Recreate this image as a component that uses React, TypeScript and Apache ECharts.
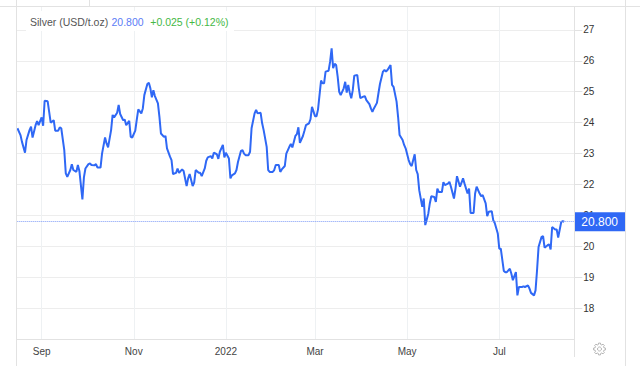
import React, { useEffect, useRef } from "react";
import * as echarts from "echarts";

const titleName = "Silver (USD/t.oz)";
const lastPrice = 20.8;
const changeAbs = 0.025;
const changePct = 0.12;
const monthNames = ["Jan", "Feb", "Mar", "Apr", "May", "Jun", "Jul", "Aug", "Sep", "Oct", "Nov", "Dec"];
const xMin = "2021-08-15 12:00";
const xMax = "2022-08-19 16:00";
const yMin = 17;
const yMax = 27.77;

const dates = [
  "2021-08-16", "2021-08-18", "2021-08-19", "2021-08-21", "2021-08-22", "2021-08-24", "2021-08-25", "2021-08-26", "2021-08-28", "2021-08-29",
  "2021-08-30", "2021-09-01", "2021-09-02", "2021-09-03", "2021-09-05", "2021-09-06", "2021-09-07", "2021-09-09", "2021-09-10", "2021-09-12",
  "2021-09-13", "2021-09-14", "2021-09-16", "2021-09-17", "2021-09-18", "2021-09-20", "2021-09-21", "2021-09-22", "2021-09-24", "2021-09-25",
  "2021-09-26", "2021-09-28", "2021-09-29", "2021-09-30", "2021-10-02", "2021-10-03", "2021-10-04", "2021-10-06", "2021-10-07", "2021-10-08",
  "2021-10-10", "2021-10-11", "2021-10-13", "2021-10-14", "2021-10-15", "2021-10-17", "2021-10-18", "2021-10-19", "2021-10-21", "2021-10-22",
  "2021-10-23", "2021-10-25", "2021-10-26", "2021-10-27", "2021-10-29", "2021-10-30", "2021-10-31", "2021-11-02", "2021-11-03", "2021-11-04",
  "2021-11-06", "2021-11-07", "2021-11-08", "2021-11-10", "2021-11-11", "2021-11-12", "2021-11-13", "2021-11-14", "2021-11-15", "2021-11-17",
  "2021-11-18", "2021-11-19", "2021-11-21", "2021-11-22", "2021-11-23", "2021-11-25", "2021-11-26", "2021-11-27", "2021-11-29", "2021-11-30",
  "2021-12-01", "2021-12-03", "2021-12-04", "2021-12-06", "2021-12-07", "2021-12-08", "2021-12-10", "2021-12-11", "2021-12-12", "2021-12-14",
  "2021-12-15", "2021-12-16", "2021-12-18", "2021-12-19", "2021-12-20", "2021-12-22", "2021-12-23", "2021-12-24", "2021-12-26", "2021-12-27",
  "2021-12-28", "2021-12-30", "2021-12-31", "2022-01-01", "2022-01-03", "2022-01-04", "2022-01-05", "2022-01-07", "2022-01-08", "2022-01-09",
  "2022-01-11", "2022-01-12", "2022-01-13", "2022-01-14", "2022-01-16", "2022-01-17", "2022-01-18", "2022-01-20", "2022-01-21", "2022-01-22",
  "2022-01-24", "2022-01-25", "2022-01-26", "2022-01-28", "2022-01-29", "2022-01-30", "2022-02-01", "2022-02-02", "2022-02-03", "2022-02-05",
  "2022-02-06", "2022-02-07", "2022-02-09", "2022-02-10", "2022-02-12", "2022-02-13", "2022-02-14", "2022-02-16", "2022-02-17", "2022-02-18",
  "2022-02-19", "2022-02-21", "2022-02-22", "2022-02-23", "2022-02-25", "2022-02-26", "2022-02-27", "2022-03-01", "2022-03-02", "2022-03-03",
  "2022-03-05", "2022-03-06", "2022-03-07", "2022-03-08", "2022-03-10", "2022-03-11", "2022-03-12", "2022-03-13", "2022-03-14", "2022-03-15",
  "2022-03-16", "2022-03-17", "2022-03-18", "2022-03-20", "2022-03-21", "2022-03-22", "2022-03-23", "2022-03-24", "2022-03-25", "2022-03-26",
  "2022-03-27", "2022-03-29", "2022-03-30", "2022-03-31", "2022-04-02", "2022-04-03", "2022-04-04", "2022-04-06", "2022-04-07", "2022-04-08",
  "2022-04-09", "2022-04-11", "2022-04-12", "2022-04-13", "2022-04-15", "2022-04-16", "2022-04-17", "2022-04-18", "2022-04-20", "2022-04-21",
  "2022-04-22", "2022-04-24", "2022-04-25", "2022-04-26", "2022-04-28", "2022-04-29", "2022-04-30", "2022-05-02", "2022-05-03", "2022-05-04",
  "2022-05-06", "2022-05-07", "2022-05-08", "2022-05-09", "2022-05-11", "2022-05-12", "2022-05-13", "2022-05-15", "2022-05-16", "2022-05-17",
  "2022-05-19", "2022-05-20", "2022-05-21", "2022-05-22", "2022-05-24", "2022-05-25", "2022-05-26", "2022-05-28", "2022-05-29", "2022-05-30",
  "2022-06-01", "2022-06-02", "2022-06-03", "2022-06-05", "2022-06-06", "2022-06-07", "2022-06-08", "2022-06-10", "2022-06-11", "2022-06-12",
  "2022-06-14", "2022-06-15", "2022-06-16", "2022-06-18", "2022-06-19", "2022-06-20", "2022-06-22", "2022-06-23", "2022-06-24", "2022-06-26",
  "2022-06-27", "2022-06-28", "2022-06-30", "2022-07-01", "2022-07-02", "2022-07-04", "2022-07-05", "2022-07-06", "2022-07-08", "2022-07-09",
  "2022-07-10", "2022-07-12", "2022-07-13", "2022-07-14", "2022-07-16", "2022-07-17", "2022-07-18", "2022-07-20", "2022-07-21", "2022-07-22",
  "2022-07-24", "2022-07-25", "2022-07-26", "2022-07-27", "2022-07-29", "2022-07-30", "2022-07-31", "2022-08-02", "2022-08-03", "2022-08-04",
  "2022-08-05", "2022-08-07", "2022-08-08", "2022-08-09", "2022-08-11", "2022-08-12", "2022-08-13",
];

const prices = [
  23.82, 23.6, 23.38, 23.03, 23.44, 23.76, 23.87, 23.52, 23.92, 24.05,
  23.92, 24.17, 23.9, 24.71, 24.69, 24.35, 24.0, 24.08, 23.74, 23.74,
  23.85, 23.82, 23.11, 22.36, 22.25, 22.47, 22.66, 22.47, 22.41, 22.63,
  22.44, 21.52, 22.23, 22.52, 22.66, 22.68, 22.63, 22.62, 22.66, 22.55,
  22.55, 23.0, 23.52, 23.33, 23.2, 23.76, 24.25, 24.17, 24.32, 24.57,
  24.28, 24.08, 24.1, 23.92, 24.06, 23.54, 23.52, 23.74, 24.1, 24.43,
  24.3, 24.46, 24.89, 25.25, 25.29, 25.11, 24.82, 25.05, 24.86, 24.62,
  24.19, 23.65, 23.54, 23.57, 23.17, 22.9, 22.79, 22.34, 22.38, 22.52,
  22.38, 22.49, 22.44, 21.95, 22.2, 22.34, 21.95, 22.06, 22.47, 22.38,
  22.38, 22.27, 22.52, 22.77, 22.88, 22.92, 22.84, 23.03, 22.98, 22.83,
  23.06, 23.28, 22.88, 23.03, 22.84, 22.2, 22.3, 22.36, 22.47, 22.73,
  23.09, 23.11, 23.0, 22.95, 22.95, 23.06, 23.82, 24.3, 24.41, 24.3,
  24.32, 23.98, 23.76, 23.22, 22.47, 22.41, 22.41, 22.47, 22.63, 22.63,
  22.41, 22.49, 22.6, 23.0, 23.22, 23.31, 23.2, 23.57, 23.63, 23.85,
  23.35, 23.57, 23.74, 23.92, 23.98, 24.11, 24.51, 24.21, 24.21, 24.43,
  25.36, 25.27, 25.27, 25.65, 25.68, 25.97, 26.4, 25.76, 25.9, 25.86,
  25.49, 25.0, 24.89, 25.11, 25.32, 24.97, 25.22, 24.97, 24.79, 25.05,
  25.52, 25.54, 25.11, 24.79, 24.84, 24.86, 24.73, 24.6, 24.46, 24.35,
  24.46, 24.64, 24.95, 25.25, 25.65, 25.7, 25.65, 25.7, 25.86, 25.22,
  25.16, 24.68, 24.19, 23.6, 23.44, 23.28, 23.17, 22.79, 22.66, 22.6,
  22.98, 22.47, 22.34, 21.82, 21.28, 21.55, 20.69, 21.06, 21.39, 21.62,
  21.6, 21.44, 21.87, 21.76, 21.76, 22.08, 21.98, 22.03, 22.09, 21.93,
  21.55, 21.87, 22.27, 21.93, 22.06, 22.2, 22.03, 21.71, 21.87, 21.08,
  21.08, 21.71, 21.93, 21.71, 21.62, 21.66, 21.39, 20.98, 21.12, 21.14,
  20.85, 20.76, 20.42, 19.93, 19.93, 19.21, 19.17, 19.17, 19.28, 19.12,
  18.91, 19.17, 18.42, 18.69, 18.69, 18.71, 18.69, 18.74, 18.64, 18.5,
  18.42, 18.58, 19.23, 19.98, 20.31, 20.33, 19.96, 20.04, 20.07, 19.9,
  20.63, 20.55, 20.55, 20.29, 20.79, 20.82, 20.8,
];

const FONT = "'Liberation Sans', Arial, Helvetica, sans-serif";
const LINE_BLUE = "#2f68f5";
const FRAME = "#e2e2e2";

function gearPoints(cx: number, cy: number): number[][] {
  const pts: number[][] = [];
  const R = 6;
  const r = 4.6;
  for (let i = 0; i < 8; i++) {
    const a = (i * 45 * Math.PI) / 180;
    const d = Math.PI / 180;
    pts.push([cx + R * Math.cos(a - 9 * d), cy + R * Math.sin(a - 9 * d)]);
    pts.push([cx + R * Math.cos(a + 9 * d), cy + R * Math.sin(a + 9 * d)]);
    pts.push([cx + r * Math.cos(a + 15 * d), cy + r * Math.sin(a + 15 * d)]);
    pts.push([cx + r * Math.cos(a + 30 * d), cy + r * Math.sin(a + 30 * d)]);
  }
  return pts;
}

export default function App() {
  const ref = useRef<HTMLDivElement>(null);

  useEffect(() => {
    if (!ref.current) return;
    const chart = echarts.init(ref.current, undefined, { renderer: "svg" });
    const sign = changeAbs >= 0 ? "+" : "";
    const changeText = `${sign}${changeAbs.toFixed(3)} (${sign}${changePct.toFixed(2)}%)`;

    const option: any = {
      animation: false,
      backgroundColor: "#ffffff",
      grid: { left: 16.7, right: 65.7, top: 6, bottom: 26.7, containLabel: false },
      xAxis: {
        type: "time",
        min: xMin,
        max: xMax,
        splitNumber: 5,
        axisLine: { show: true, lineStyle: { color: FRAME, width: 1 } },
        axisTick: { show: false },
        axisLabel: {
          color: "#444",
          fontSize: 10,
          fontFamily: FONT,
          margin: 7,
          showMinLabel: false,
          showMaxLabel: false,
          formatter: (val: number) => {
            const d = new Date(val);
            if (d.getMonth() === 0) return String(d.getFullYear());
            return monthNames[d.getMonth()];
          },
        },
        splitLine: { show: true, lineStyle: { color: "#eef1f3", width: 1 } },
      },
      yAxis: {
        type: "value",
        position: "right",
        min: yMin,
        max: yMax,
        interval: 1,
        axisLine: { show: false },
        axisTick: { show: true, length: 8, lineStyle: { color: FRAME } },
        axisLabel: {
          color: "#333",
          fontSize: 10,
          fontFamily: FONT,
          margin: 9,
          showMaxLabel: false,
          showMinLabel: false,
        },
        splitLine: { show: true, lineStyle: { color: "#ededed", width: 1 } },
      },
      series: [
        {
          type: "line",
          data: dates.map((d, i) => [d, prices[i]]),
          showSymbol: false,
          symbol: "none",
          lineStyle: { color: LINE_BLUE, width: 2 },
          z: 3,
          markLine: {
            silent: true,
            symbol: ["none", "none"],
            lineStyle: { type: "dotted", color: "#7f9cf7", width: 1 },
            label: {
              show: true,
              position: "end",
              distance: 0,
              formatter: () => lastPrice.toFixed(3),
              color: "#ffffff",
              backgroundColor: LINE_BLUE,
              fontSize: 12,
              fontFamily: FONT,
              lineHeight: 13,
              padding: [3, 7, 3, 7],
            },
            data: [{ yAxis: lastPrice }],
          },
        },
      ],
      graphic: [
        { type: "line", z: 50, shape: { x1: 0, y1: 6.5, x2: 640, y2: 6.5 }, style: { stroke: FRAME, lineWidth: 1 } },
        { type: "line", z: 50, shape: { x1: 16.5, y1: 0, x2: 16.5, y2: 366 }, style: { stroke: FRAME, lineWidth: 1 } },
        { type: "line", z: 50, shape: { x1: 574.5, y1: 6, x2: 574.5, y2: 357 }, style: { stroke: FRAME, lineWidth: 1 } },
        { type: "line", z: 50, shape: { x1: 625.5, y1: 0, x2: 625.5, y2: 366 }, style: { stroke: FRAME, lineWidth: 1 } },
        { type: "line", z: 50, shape: { x1: 89.5, y1: 0, x2: 89.5, y2: 6 }, style: { stroke: FRAME, lineWidth: 1 } },
        { type: "rect", z: 60, shape: { x: 26, y: 11, width: 208, height: 20 }, style: { fill: "#ffffff" } },
        {
          type: "text",
          z: 61,
          x: 30,
          y: 21.5,
          style: {
            text: `{a|${titleName}} {b|${lastPrice.toFixed(3)}}  {c|${changeText}}`,
            verticalAlign: "middle",
            align: "left",
            rich: {
              a: { fill: "#555555", fontSize: 10.5, fontFamily: FONT },
              b: { fill: "#5b7cf6", fontSize: 10.5, fontFamily: FONT },
              c: { fill: "#45b845", fontSize: 10.5, fontFamily: FONT },
            },
          },
        },
        {
          type: "polygon",
          z: 61,
          shape: { points: gearPoints(599.5, 349) },
          style: { fill: "#ffffff", stroke: "#b5b5b5", lineWidth: 1 },
        },
        {
          type: "circle",
          z: 62,
          shape: { cx: 599.5, cy: 349, r: 2 },
          style: { fill: "#ffffff", stroke: "#b5b5b5", lineWidth: 1 },
        },
      ],
    };

    chart.setOption(option);
    return () => chart.dispose();
  }, []);

  return (
    <div
      ref={ref}
      style={{ position: "fixed", left: 0, top: 0, width: 640, height: 366, background: "#fff" }}
    />
  );
}
